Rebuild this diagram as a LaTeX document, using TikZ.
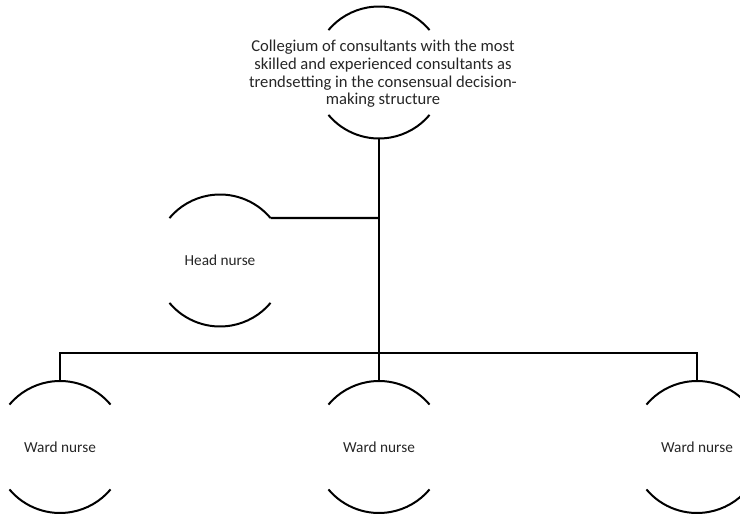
\documentclass[tikz,border=0pt]{standalone}
\usepackage{fontspec}
\setmainfont{Carlito}
\begin{document}
\begin{tikzpicture}[x=1pt,y=1pt,
  member/.style={circle, minimum size=132pt, inner sep=0pt, outer sep=0pt},
  caption/.style={font=\fontsize{15.3}{18}\selectfont, align=center, text=black!85},
  bigcaption/.style={font=\fontsize{16.6}{17.7}\selectfont, align=center, text=black!85},
  rim/.style={line width=2pt, black},
  link/.style={line width=2.2pt, black}]
\useasboundingbox (0,0) rectangle (740,515);

% people, each a circle whose border is drawn only on top and bottom
\node (top) [member, label={[bigcaption, xshift=4pt, yshift=-1.5pt]center:Collegium of consultants with the most\\skilled and experienced consultants as\\trendsetting in the consensual decision-\\making structure}] at (379,442.5) {};
\node (head) [member, label={[caption]center:Head nurse}] at (220,254.5) {};
\node (w1) [member, label={[caption]center:Ward nurse}] at (60,68) {};
\node (w2) [member, label={[caption]center:Ward nurse}] at (379,68) {};
\node (w3) [member, label={[caption]center:Ward nurse}] at (697,68) {};

\foreach \n in {top,head,w1,w2,w3}
  \draw[rim] (\n.40) arc[start angle=40, end angle=140, radius=66pt]
             (\n.220) arc[start angle=220, end angle=320, radius=66pt];

% junctions on the trunk
\coordinate (side) at (379,296.9);
\coordinate (bus) at (379,162);

% connectors
\draw[link] (top.south) -- (bus);
\draw[link] (head.40) -- (side);
\draw[link] (w1.north) |- (bus) -| (w3.north);
\draw[link] (bus) -- (w2.north);
\end{tikzpicture}
\end{document}
